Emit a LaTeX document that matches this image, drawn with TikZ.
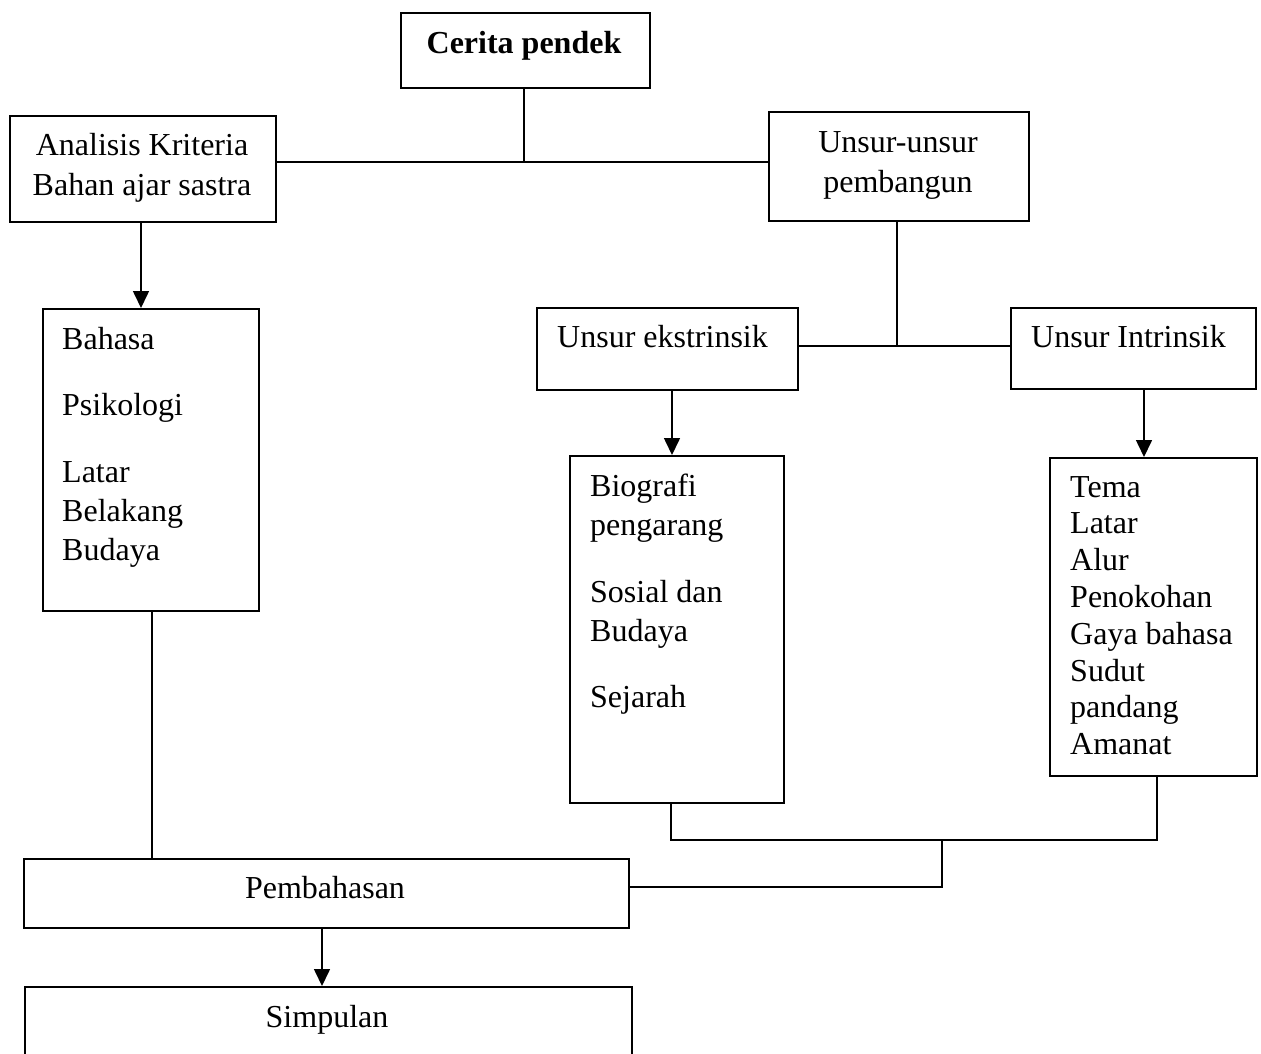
\documentclass[tikz,border=0pt]{standalone}
\usepackage{fontspec}
\setmainfont{Liberation Serif}
\usetikzlibrary{arrows.meta}
\tikzset{
  box/.style={draw, line width=1.6pt, inner sep=0pt, anchor=north west},
  lbl/.style={inner sep=0pt, anchor=base west, font=\fontsize{32}{38}\selectfont},
  clbl/.style={inner sep=0pt, anchor=base, font=\fontsize{32}{38}\selectfont},
  conn/.style={line width=1.6pt},
  arr/.style={line width=1.6pt, -{Triangle[width=16pt,length=17pt]}}
}
\newcommand{\bx}[6][]{\node[box,#1, minimum width=#4-#2, minimum height=#5-#3] (#6) at (#2,#3) {};}
\begin{document}
\begin{tikzpicture}[x=1pt,y=-1pt]
\useasboundingbox (0,0) rectangle (1261,1053);
% boxes
\bx[line width=2.2pt]{400}{12}{649}{87}{cerita}
\bx{9}{115}{275}{221}{analisis}
\bx{768}{111}{1028}{220}{unsur}
\bx{536}{307}{797}{389}{ekstr}
\bx{1010}{307}{1255}{388}{intr}
\bx{42}{308}{258}{610}{bahasa}
\bx{569}{455}{783}{802}{biografi}
\bx{1049}{457}{1256}{775}{tema}
\bx{23}{858}{628}{927}{pembahasan}
\bx{24}{986}{631}{1075}{simpulan}
% texts
\node[clbl, font=\fontsize{32}{38}\selectfont\bfseries] (tcerita) at (524,53) {Cerita pendek};
\node[clbl] (tanal1) at (142,155) {Analisis Kriteria};
\node[clbl] (tanal2) at (142,195) {Bahan ajar sastra};
\node[clbl] (tuns1) at (898,152) {Unsur-unsur};
\node[clbl] (tuns2) at (898,192) {pembangun};
\node[lbl] (tekstr) at (557,347) {Unsur ekstrinsik};
\node[lbl] (tintr) at (1031,347) {Unsur Intrinsik};
\node[lbl] (tb1) at (62,349) {Bahasa};
\node[lbl] (tb2) at (62,415) {Psikologi};
\node[lbl] (tb3) at (62,482) {Latar};
\node[lbl] (tb4) at (62,521) {Belakang};
\node[lbl] (tb5) at (62,560) {Budaya};
\node[lbl] (tg1) at (590,496) {Biografi};
\node[lbl] (tg2) at (590,535) {pengarang};
\node[lbl] (tg3) at (590,602) {Sosial dan};
\node[lbl] (tg4) at (590,641) {Budaya};
\node[lbl] (tg5) at (590,707) {Sejarah};
\node[lbl] (tt1) at (1070,497) {Tema};
\node[lbl] (tt2) at (1070,533.8) {Latar};
\node[lbl] (tt3) at (1070,570.6) {Alur};
\node[lbl] (tt4) at (1070,607.4) {Penokohan};
\node[lbl] (tt5) at (1070,644.2) {Gaya bahasa};
\node[lbl] (tt6) at (1070,681) {Sudut};
\node[lbl] (tt7) at (1070,717.8) {pandang};
\node[lbl] (tt8) at (1070,754.6) {Amanat};
\node[clbl] (tpem) at (325,898) {Pembahasan};
\node[clbl] (tsim) at (327,1027) {Simpulan};
% junction coordinates
\coordinate (j1) at (524,162);
\coordinate (j2) at (897,346);
\coordinate (xa) at (141,0);
\coordinate (xe) at (672,0);
\coordinate (xi) at (1144,0);
\coordinate (xb) at (152,0);
\coordinate (xg) at (671,0);
\coordinate (xt) at (1157,0);
\coordinate (j3) at (942,840);
\coordinate (j4) at (942,887);
\coordinate (xp) at (322,0);
% connectors
\draw[conn] (cerita.south -| j1) -- (j1);
\draw[conn] (analisis.east |- j1) -- (unsur.west |- j1);
\draw[conn] (unsur.south -| j2) -- (j2);
\draw[conn] (ekstr.east |- j2) -- (intr.west |- j2);
\draw[arr] (analisis.south -| xa) -- (bahasa.north -| xa);
\draw[arr] (ekstr.south -| xe) -- (biografi.north -| xe);
\draw[arr] (intr.south -| xi) -- (tema.north -| xi);
\draw[conn] (bahasa.south -| xb) -- (pembahasan.north -| xb);
\draw[conn] (biografi.south -| xg) |- (j3) -| (tema.south -| xt);
\draw[conn] (j3) -- (j4) -- (pembahasan.east |- j4);
\draw[arr] (pembahasan.south -| xp) -- (simpulan.north -| xp);
\end{tikzpicture}
\end{document}
